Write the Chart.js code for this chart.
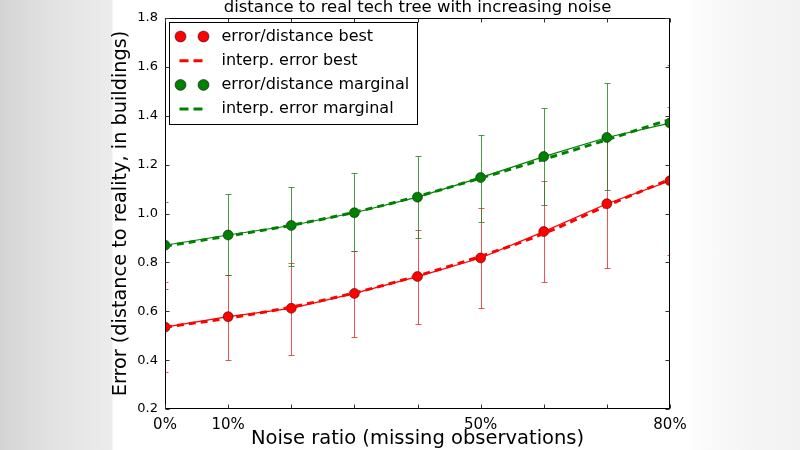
<!DOCTYPE html>
<html>
<head>
<meta charset="utf-8">
<script src="https://cdn.jsdelivr.net/npm/chart.js@4.4.1/dist/chart.umd.min.js"></script>
<style>
html, body { margin: 0; padding: 0; background: #fff; }
#wrap {
  position: relative; width: 800px; height: 450px; overflow: hidden;
  background: linear-gradient(to right, #d4d4d4 0px, #e2e2e2 50px, #ececec 112px, #fff 113px, #fff 686px, #fbfbfb 700px, #f4f4f4 760px, #f2f2f2 800px);
}
canvas { position: absolute; left: 0; top: 0; }
</style>
</head>
<body>
<div id="wrap"><canvas id="c" width="800" height="450"></canvas></div>
<script>
// noise ratio on x, error in buildings on y
const noise = [0, 0.1, 0.2, 0.3, 0.4, 0.5, 0.6, 0.7, 0.8];
const tickValues = [0, 0.1, 0.5, 0.8];
const tickLabels = ['0%', '10%', '50%', '80%'];

const bestErr  = [0.535, 0.578, 0.612, 0.673, 0.742, 0.818, 0.926, 1.040, 1.134];
const bestLow  = [0.350, 0.402, 0.422, 0.493, 0.548, 0.613, 0.719, 0.777, 0.831];
const bestHigh = [0.718, 0.750, 0.797, 0.845, 0.933, 1.022, 1.134, 1.300, 1.435];
const bestFit  = [0.535, 0.572, 0.617, 0.675, 0.745, 0.825, 0.918, 1.032, 1.140];

const margErr  = [0.870, 0.912, 0.951, 1.003, 1.067, 1.147, 1.233, 1.311, 1.370];
const margLow  = [0.690, 0.749, 0.786, 0.845, 0.899, 0.967, 1.036, 1.097, 1.133];
const margHigh = [1.049, 1.079, 1.110, 1.164, 1.236, 1.323, 1.431, 1.533, 1.607];
const margFit  = [0.866, 0.908, 0.952, 1.005, 1.070, 1.145, 1.222, 1.302, 1.385];

Chart.defaults.font.family = "'DejaVu Sans', sans-serif";
Chart.defaults.color = '#000';

const pts = (ys) => noise.map((x, i) => ({x, y: ys[i]}));

function pointSet(label, ys, low, high, color, errColor, order) {
  return {
    label, data: pts(ys), order, kind: 'points',
    borderColor: color, borderWidth: 1.2,
    pointRadius: 5, pointHoverRadius: 5,
    pointBackgroundColor: color, pointBorderColor: 'rgba(0,0,0,0.8)', pointBorderWidth: 0.6,
    errLow: low, errHigh: high, errColor
  };
}
function fitSet(label, ys, color, order) {
  return {
    label, data: pts(ys), order, kind: 'dash',
    borderColor: color, borderWidth: 3, borderDash: [7, 5],
    pointRadius: 0, cubicInterpolationMode: 'monotone'
  };
}

const errorBars = {
  id: 'errorBars',
  beforeDatasetDraw(chart, args) {
    const ds = chart.data.datasets[args.index];
    if (!ds.errLow) return;
    const {ctx, chartArea: a, scales} = chart;
    ctx.save();
    ctx.beginPath();
    ctx.rect(a.left, a.top, a.right - a.left, a.bottom - a.top);
    ctx.clip();
    ctx.strokeStyle = ds.errColor;
    ctx.lineWidth = 1;
    ds.data.forEach((p, i) => {
      const x = Math.round(scales.x.getPixelForValue(p.x)) + 0.5;
      const y1 = Math.round(scales.y.getPixelForValue(ds.errLow[i])) + 0.5;
      const y2 = Math.round(scales.y.getPixelForValue(ds.errHigh[i])) + 0.5;
      ctx.beginPath();
      ctx.moveTo(x, y1); ctx.lineTo(x, y2);
      ctx.moveTo(x - 3, y1); ctx.lineTo(x + 3, y1);
      ctx.moveTo(x - 3, y2); ctx.lineTo(x + 3, y2);
      ctx.stroke();
    });
    ctx.restore();
  }
};

// matplotlib style frame with inward ticks on all sides, plus the boxed legend
const frame = {
  id: 'frame',
  afterDraw(chart) {
    const {ctx, chartArea: a, scales} = chart;
    const L = Math.round(a.left) + 0.5, R = Math.round(a.right) - 0.5;
    const T = Math.round(a.top) + 0.5, B = Math.round(a.bottom) - 0.5;
    ctx.save();
    ctx.strokeStyle = '#000';
    ctx.lineWidth = 1;
    ctx.strokeRect(L, T, R - L, B - T);
    ctx.strokeStyle = '#333';
    ctx.beginPath();
    scales.x.ticks.forEach(t => {
      const x = Math.round(scales.x.getPixelForValue(t.value)) + 0.5;
      ctx.moveTo(x, B); ctx.lineTo(x, B - 4);
      ctx.moveTo(x, T); ctx.lineTo(x, T + 4);
    });
    scales.y.ticks.forEach(t => {
      const y = Math.round(scales.y.getPixelForValue(t.value)) + 0.5;
      ctx.moveTo(L, y); ctx.lineTo(L + 4, y);
      ctx.moveTo(R, y); ctx.lineTo(R - 4, y);
    });
    ctx.stroke();

    // legend
    const bx = L + 4, by = T + 4, bw = 248, bh = 102;
    ctx.fillStyle = '#fff';
    ctx.fillRect(bx, by, bw, bh);
    ctx.strokeStyle = '#000';
    ctx.strokeRect(bx, by, bw, bh);
    ctx.font = "16px 'DejaVu Sans'";
    ctx.textBaseline = 'middle';
    ctx.textAlign = 'left';
    chart.data.datasets.forEach((ds, k) => {
      const y = by + 14 + k * 24.2;
      if (ds.kind === 'points') {
        [bx + 11, bx + 34].forEach(cx => {
          ctx.beginPath();
          ctx.arc(cx, y, 5.5, 0, Math.PI * 2);
          ctx.fillStyle = ds.pointBackgroundColor;
          ctx.fill();
          ctx.lineWidth = 0.6;
          ctx.strokeStyle = 'rgba(0,0,0,0.8)';
          ctx.stroke();
        });
      } else {
        ctx.beginPath();
        ctx.setLineDash([9, 5]);
        ctx.lineWidth = 3;
        ctx.strokeStyle = ds.borderColor;
        ctx.moveTo(bx + 10, y); ctx.lineTo(bx + 35, y);
        ctx.stroke();
        ctx.setLineDash([]);
      }
      ctx.fillStyle = '#000';
      ctx.fillText(ds.label, bx + 52, y);
    });
    ctx.restore();
  }
};

new Chart(document.getElementById('c'), {
  type: 'line',
  data: {
    datasets: [
      pointSet('error/distance best', bestErr, bestLow, bestHigh, '#ff0000', 'rgba(235,40,40,0.8)', 6),
      fitSet('interp. error best', bestFit, '#ff0000', 5),
      pointSet('error/distance marginal', margErr, margLow, margHigh, '#008000', 'rgba(30,130,30,0.8)', 3),
      fitSet('interp. error marginal', margFit, '#008000', 2)
    ]
  },
  options: {
    responsive: false,
    animation: false,
    events: [],
    layout: { padding: { left: 0, right: 130, top: 0, bottom: 0 } },
    plugins: { legend: { display: false }, tooltip: { enabled: false } },
    scales: {
      x: {
        type: 'linear', min: 0, max: 0.8,
        afterBuildTicks: s => { s.ticks = noise.map(v => ({value: v})); },
        afterFit: s => { s.height = 41; },
        grid: { display: false, drawTicks: false },
        border: { display: false },
        ticks: {
          autoSkip: false, maxRotation: 0, padding: 7,
          font: { size: 15 },
          callback: v => {
            const i = tickValues.findIndex(t => Math.abs(t - v) < 1e-6);
            return i < 0 ? '' : tickLabels[i];
          }
        },
        title: {
          display: true, text: 'Noise ratio (missing observations)',
          font: { size: 19.5, lineHeight: 1 }, padding: { top: 0, bottom: 1.5 }
        }
      },
      x2: {
        type: 'linear', position: 'top', min: 0, max: 0.8,
        afterFit: s => { s.height = 18; },
        grid: { display: false, drawTicks: false },
        border: { display: false },
        ticks: { display: false },
        title: {
          display: true, text: 'distance to real tech tree with increasing noise',
          font: { size: 16.5, lineHeight: 1 }, padding: { top: -1, bottom: 0 }
        }
      },
      y: {
        min: 0.2, max: 1.8,
        afterFit: s => { s.width = 165; },
        grid: { display: false, drawTicks: false },
        border: { display: false },
        ticks: { stepSize: 0.2, padding: 7, font: { size: 13 }, callback: v => v.toFixed(1) },
        title: {
          display: true, text: 'Error (distance to reality, in buildings)',
          font: { size: 19.3, lineHeight: 1 }, padding: { top: 111, bottom: 0 }
        }
      }
    }
  },
  plugins: [errorBars, frame]
});
</script>
</body>
</html>
